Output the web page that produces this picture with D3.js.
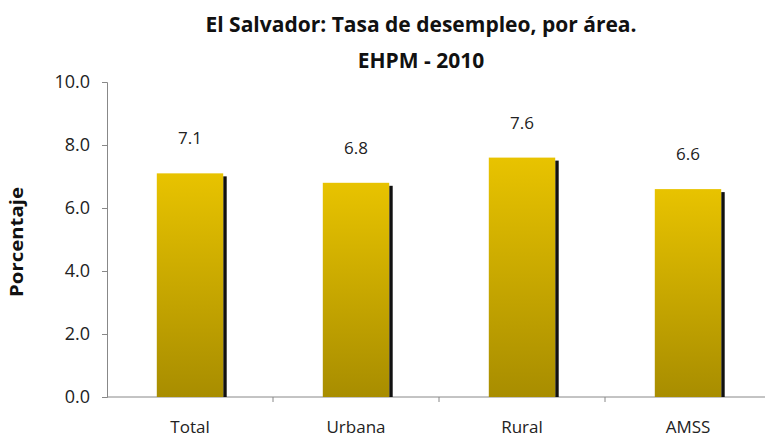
<!DOCTYPE html>
<html>
<head>
<meta charset="utf-8">
<script src="https://cdnjs.cloudflare.com/ajax/libs/d3/7.8.5/d3.min.js"></script>
<style>
  body { margin: 0; background: #fff; }
  svg { display: block; font-family: "Open Sans", "DejaVu Sans", sans-serif; }
</style>
</head>
<body>
<div id="chart"></div>
<script>
// chart data
var categories = ["Total", "Urbana", "Rural", "AMSS"];
var rates = [7.1, 6.8, 7.6, 6.6];
var yTicks = [0, 2, 4, 6, 8, 10];
var titleLines = ["El Salvador: Tasa de desempleo, por área.", "EHPM - 2010"];

var width = 765, height = 439;
var margin = { top: 82, right: -6, bottom: 42, left: 107 };

var svg = d3.select("#chart").append("svg")
    .attr("width", width)
    .attr("height", height);

// bar gradient
var grad = svg.append("defs").append("linearGradient")
    .attr("id", "barGrad")
    .attr("x1", "0%").attr("x2", "0%")
    .attr("y1", "0%").attr("y2", "100%");
grad.append("stop").attr("offset", "0%").style("stop-color", "#e8c300");
grad.append("stop").attr("offset", "100%").style("stop-color", "#a88d00");

var x = d3.scaleBand()
    .domain(categories)
    .range([margin.left, width - margin.right])
    .paddingInner(0.6)
    .paddingOuter(0.3);

var y = d3.scaleLinear()
    .domain([0, 10])
    .range([height - margin.bottom, margin.top]);

// title
svg.selectAll(".title")
    .data(titleLines)
    .enter().append("text")
    .attr("class", "title")
    .attr("x", 421)
    .attr("y", function (d, i) { return 32 + i * 36; })
    .attr("text-anchor", "middle")
    .style("font-size", "21px")
    .style("font-weight", "bold")
    .style("fill", "#111")
    .text(function (d) { return d; });

// y axis
var yAxis = svg.append("g")
    .attr("transform", "translate(" + margin.left + ",0)")
    .call(d3.axisLeft(y).tickValues(yTicks).tickFormat(d3.format(".1f")).tickSize(5).tickPadding(12));
yAxis.selectAll("path, line").attr("stroke", "#888");
yAxis.selectAll("text").style("font-size", "18px").style("fill", "#222")
    .style("font-family", "'Open Sans', sans-serif");

// x axis (ticks between categories)
var xAxisG = svg.append("g")
    .attr("transform", "translate(0," + y(0) + ")");
xAxisG.append("line")
    .attr("x1", margin.left).attr("x2", width)
    .attr("stroke", "#888");
xAxisG.selectAll(".sep")
    .data(categories.slice(1))
    .enter().append("line")
    .attr("x1", function (d) { return x(d) - x.step() * x.paddingInner() / 2; })
    .attr("x2", function (d) { return x(d) - x.step() * x.paddingInner() / 2; })
    .attr("y1", 0).attr("y2", 5)
    .attr("stroke", "#888");
xAxisG.selectAll(".cat")
    .data(categories)
    .enter().append("text")
    .attr("x", function (d) { return x(d) + x.bandwidth() / 2; })
    .attr("y", 36)
    .attr("text-anchor", "middle")
    .style("font-size", "17px")
    .style("fill", "#222")
    .text(function (d) { return d; });

// y axis title
svg.append("text")
    .attr("transform", "translate(23," + 242 + ") rotate(-90)")
    .attr("text-anchor", "middle")
    .attr("textLength", 110)
    .attr("lengthAdjust", "spacingAndGlyphs")
    .style("font-size", "17px")
    .style("font-weight", "bold")
    .style("fill", "#111")
    .text("Porcentaje");

// bars with shadow
var bars = svg.selectAll(".bar")
    .data(rates)
    .enter().append("g")
    .attr("class", "bar");

bars.append("rect")
    .attr("x", function (d, i) { return x(categories[i]) + x.bandwidth(); })
    .attr("y", function (d) { return y(d) + 3; })
    .attr("width", 3.5)
    .attr("height", function (d) { return y(0) - y(d) - 3; })
    .attr("fill", "#111");

bars.append("rect")
    .attr("x", function (d, i) { return x(categories[i]); })
    .attr("y", function (d) { return y(d); })
    .attr("width", x.bandwidth())
    .attr("height", function (d) { return y(0) - y(d); })
    .attr("fill", "url(#barGrad)");

bars.append("text")
    .attr("x", function (d, i) { return x(categories[i]) + x.bandwidth() / 2; })
    .attr("y", function (d) { return y(d) - 29; })
    .attr("text-anchor", "middle")
    .style("font-size", "17px")
    .style("fill", "#222")
    .text(function (d) { return d3.format(".1f")(d); });
</script>
</body>
</html>
